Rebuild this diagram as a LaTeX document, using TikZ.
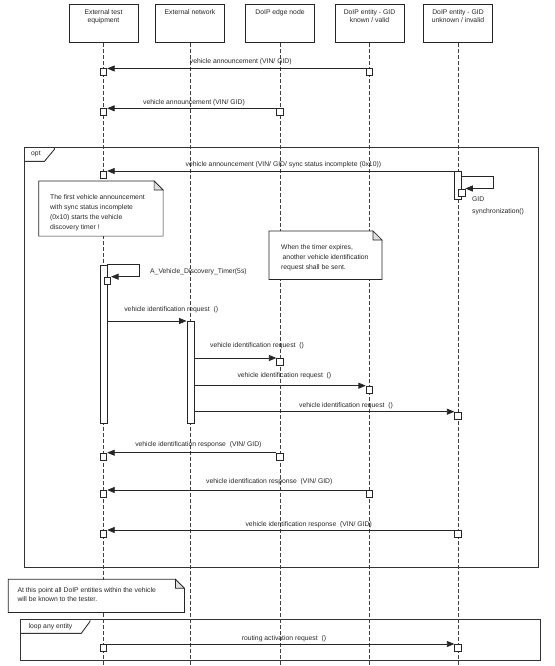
\documentclass[tikz,border=0pt]{standalone}
\usepackage{fontspec}
\setmainfont{Liberation Sans}
\usetikzlibrary{arrows.meta, positioning, calc}

\tikzset{
  txt/.style={font=\fontsize{6.8}{8.4}\selectfont, text=black!85, inner sep=0pt},
  head/.style={draw=black!85, fill=white, line width=0.7pt, minimum width=69pt, minimum height=38pt, inner sep=0pt},
  headtxt/.style={txt, anchor=north, align=center, yshift=-5.3pt},
  lifeline/.style={draw=black!75, line width=0.6pt, dash pattern=on 4pt off 2pt},
  act/.style={draw=black!85, fill=white, line width=0.7pt, minimum width=6.6pt, minimum height=7pt, inner sep=0pt, anchor=north},
  bar/.style={act, minimum width=7.2pt},
  msg/.style={draw=black!85, line width=0.8pt, -{Triangle[length=7.5pt,width=6pt]}},
  notebox/.style={draw=none, fill=white, inner sep=0pt, anchor=north west},
  notetxt/.style={txt, align=left, anchor=north west, font=\fontsize{6.8}{10}\selectfont},
  noteline/.style={draw=black!85, line width=0.7pt},
  fold/.style={noteline, fill=black!12},
  frame/.style={draw=black!80, line width=0.9pt},
}

\begin{document}
\begin{tikzpicture}[x=1pt, y=-1pt]
\useasboundingbox (0,0) rectangle (554,666);
\coordinate (bot) at (0,666);

% Combined fragments
\draw[frame] (24,147) rectangle (538.5,567.3);
\draw[frame] (24,161.3) -- (44.5,161.3) -- (54.3,149.5) -- (54.3,147);
\node[txt, anchor=west] (opttxt) at (31,154.3) {opt};
\draw[frame] (20,619.3) rectangle (540.7,660.7);
\draw[frame] (20,633.3) -- (81.3,633.3) -- (90,621.5) -- (90,619.3);
\node[txt, anchor=west] (looptxt) at (28.3,626.7) {loop any entity};

% Lifelines
\foreach \nm/\xx/\txt in {ete/103.5/{External test\\equipment}, net/190/{External network}, edge/280/{DoIP edge node}, known/369.5/{DoIP entity - GID\\known / valid}, unknown/458/{DoIP entity - GID\\unknown / invalid}} {
    \node[head, label={[headtxt]north:\txt}] (\nm) at (\xx,23.5) {};
    \draw[lifeline] (\nm.south) -- (\nm.south |- bot);
}

% Announcements
\node[act] (a1) at (369.5,68.5) {};
\node[act] (b1) at (103.5,68.5) {};
\draw[msg] (a1.north west) -- (b1.north east);
\node[txt] (m1) at (240.8,61.3) {vehicle announcement (VIN/ GID)};

\node[act] (a2) at (280,108.3) {};
\node[act] (b2) at (103.5,108.3) {};
\draw[msg] (a2.north west) -- (b2.north east);
\node[txt] (m2) at (194,102.3) {vehicle announcement (VIN/ GID)};

\node[bar, minimum height=28pt] (s5) at (458,171) {};
\node[act] (b3) at (103.5,171) {};
\draw[msg] (s5.north west) -- (b3.north east);
\node[txt] (m3) at (283.4,164.3) {vehicle announcement (VIN/ GID/ sync status incomplete (0x10))};

% GID synchronization
\node[act, minimum width=7pt] (g1) at (461.5,188.5) {};
\draw[msg] ([yshift=-5pt]s5.north east) -- ++(31,0) |- (g1.north east);
\node[txt, anchor=north west, align=left, font=\fontsize{6.8}{11.7}\selectfont] (g1txt) at (472,196.5) {GID\\synchronization()};

% Discovery timer
\node[bar, minimum height=158pt] (s1) at (103.5,264.7) {};
\node[act] (t1) at (107.4,276.7) {};
\draw[msg] (s1.north east) -- ++(31.5,0) |- (t1.north east);
\node[txt, anchor=west] (t1txt) at (150,272) {A\_Vehicle\_Discovery\_Timer(5s)};

% Identification requests
\node[bar, minimum height=101.7pt] (s2) at (190.5,321) {};
\draw[msg] (s1.east |- s2.north) -- (s2.north west);
\node[txt] (m4) at (171.2,309.3) {vehicle identification request~ ()};

\node[act] (r2) at (280,358) {};
\draw[msg] (s2.east |- r2.north) -- (r2.north west);
\node[txt] (m5) at (257,346) {vehicle identification request~ ()};

\node[act] (r3) at (369.5,385.7) {};
\draw[msg] (s2.east |- r3.north) -- (r3.north west);
\node[txt] (m6) at (284.4,375.3) {vehicle identification request~ ()};

\node[act] (r4) at (458,411.7) {};
\draw[msg] (s2.east |- r4.north) -- (r4.north west);
\node[txt] (m7) at (346,405.3) {vehicle identification request~ ()};

% Identification responses
\node[act] (p1s) at (280,452.7) {};
\node[act] (p1) at (103.5,452.7) {};
\draw[msg] (p1s.north west) -- (p1.north east);
\node[txt] (m8) at (198.4,445) {vehicle identification response~ (VIN/ GID)};

\node[act] (p2s) at (369.5,490) {};
\node[act] (p2) at (103.5,490) {};
\draw[msg] (p2s.north west) -- (p2.north east);
\node[txt] (m9) at (269.3,481.7) {vehicle identification response~ (VIN/ GID)};

\node[act] (p3s) at (458,530) {};
\node[act] (p3) at (103.5,530) {};
\draw[msg] (p3s.north west) -- (p3.north east);
\node[txt] (m10) at (308.7,524.3) {vehicle identification response~ (VIN/ GID)};

% Routing activation
\node[act] (q1) at (103.5,644) {};
\node[act] (q2) at (458,644) {};
\draw[msg] (q1.north east) -- (q2.north west);
\node[txt] (m11) at (283.9,638.3) {routing activation request~ ()};

% Notes
\node[notebox, minimum width=124pt, minimum height=54.7pt] (n1) at (38.7,181) {};
\draw[noteline] (n1.south west) |- ([xshift=-9pt]n1.north east) -- ([yshift=-9pt]n1.north east) -- (n1.south east) -- cycle;
\draw[fold] ([xshift=-9pt]n1.north east) |- ([yshift=-9pt]n1.north east) -- cycle;
\node[notetxt] (n1txt) at ([xshift=11.3pt,yshift=-13.2pt]n1.north west) {The first vehicle announcement\\with sync status incomplete\\(0x10) starts the vehicle\\discovery timer !};

\node[notebox, minimum width=112.6pt, minimum height=48pt] (n2) at (269,231) {};
\draw[noteline] (n2.south west) |- ([xshift=-9pt]n2.north east) -- ([yshift=-9pt]n2.north east) -- (n2.south east) -- cycle;
\draw[fold] ([xshift=-9pt]n2.north east) |- ([yshift=-9pt]n2.north east) -- cycle;
\node[notetxt] (n2txt) at ([xshift=12pt,yshift=-13.2pt]n2.north west) {When the timer expires,\\\hspace*{1.5pt}another vehicle identification\\request shall be sent.};

\node[notebox, minimum width=175.7pt, minimum height=32.7pt] (n3) at (8.3,579.3) {};
\draw[noteline] (n3.south west) |- ([xshift=-9pt]n3.north east) -- ([yshift=-9pt]n3.north east) -- (n3.south east) -- cycle;
\draw[fold] ([xshift=-9pt]n3.north east) |- ([yshift=-9pt]n3.north east) -- cycle;
\node[notetxt, font=\fontsize{6.8}{9}\selectfont] (n3txt) at ([xshift=9pt,yshift=-8.5pt]n3.north west) {At this point all DoIP entities within the vehicle\\will be known to the tester.};

\end{tikzpicture}
\end{document}
